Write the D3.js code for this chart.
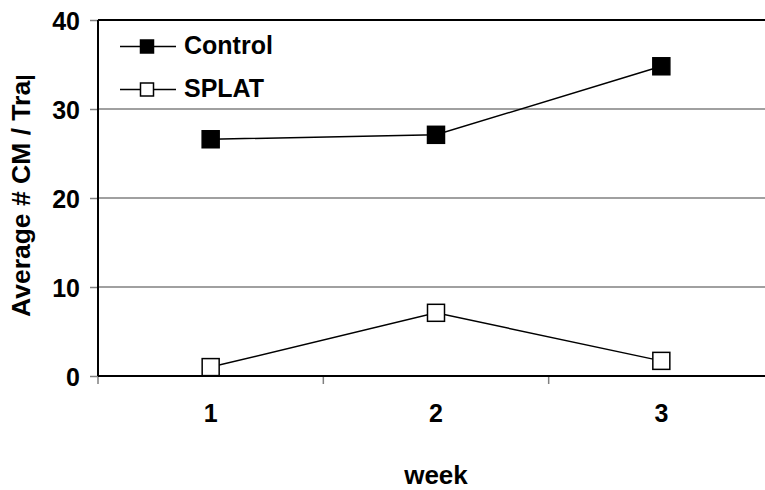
<!DOCTYPE html>
<html><head><meta charset="utf-8">
<script src="https://cdn.jsdelivr.net/npm/d3@7"></script>
<style>body{margin:0;background:#fff}svg{display:block;font-family:"Liberation Sans",Arial,sans-serif}</style>
</head><body>
<script>
const weeks = ["1","2","3"];
const controlValues = [26.6, 27.1, 34.8];
const splatValues = [1.0, 7.1, 1.7];
const yTicks = [0, 10, 20, 30, 40];
const seriesNames = ["Control", "SPLAT"];

(function () {
const W = 765, H = 490;
const FONT = "Liberation Sans, Arial, sans-serif";
const svg = d3.select("body").append("svg").attr("width", W).attr("height", H);
const mLeft = 98, mTop = 20, mBottom = 376, plotRight = 774;

const x = d3.scaleBand().domain(weeks).range([mLeft, plotRight]);
const y = d3.scaleLinear().domain([0, 40]).range([mBottom, mTop]);

// gridlines
svg.append("g").selectAll("line").data(yTicks.filter(d => d > 0 && d < 40)).join("line")
  .attr("x1", mLeft).attr("x2", W).attr("y1", d => y(d)).attr("y2", d => y(d))
  .attr("stroke", "#808080").attr("stroke-width", 1.5);
// top frame
svg.append("line").attr("x1", mLeft).attr("x2", W).attr("y1", y(40)).attr("y2", y(40))
  .attr("stroke", "#000").attr("stroke-width", 2);

// y axis
const ya = svg.append("g").attr("transform", `translate(${mLeft},0)`)
  .call(d3.axisLeft(y).tickValues(yTicks).tickSize(8).tickPadding(10));
ya.select(".domain").remove();
ya.selectAll(".tick line").attr("stroke", "#808080").attr("stroke-width", 1.5);
ya.selectAll(".tick text").attr("font-size", 25).attr("font-weight", "bold").attr("fill", "#000")
  .attr("font-family", FONT).attr("dy", "0.36em");
svg.append("line").attr("x1", mLeft).attr("x2", mLeft).attr("y1", mTop).attr("y2", mBottom)
  .attr("stroke", "#000").attr("stroke-width", 2);

// x axis
const xa = svg.append("g").attr("transform", `translate(0,${mBottom})`)
  .call(d3.axisBottom(x).tickSize(0));
xa.select(".domain").remove();
xa.selectAll(".tick text").attr("font-size", 25).attr("font-weight", "bold").attr("fill", "#000")
  .attr("font-family", FONT).attr("y", 46).attr("dy", 0);
svg.append("g").selectAll("line").data(weeks).join("line")
  .attr("x1", d => x(d)).attr("x2", d => x(d)).attr("y1", mBottom).attr("y2", mBottom + 8)
  .attr("stroke", "#808080").attr("stroke-width", 1.5);
svg.append("line").attr("x1", mLeft).attr("x2", W).attr("y1", mBottom).attr("y2", mBottom)
  .attr("stroke", "#000").attr("stroke-width", 2);

const cx = d => x(d) + x.bandwidth() / 2;
const line = d3.line().x(d => cx(d[0])).y(d => y(d[1]));
const series = [
  {name: seriesNames[0], vals: controlValues, fill: "#000"},
  {name: seriesNames[1], vals: splatValues, fill: "#fff"}
];
const S = 17;
series.forEach(s => {
  const pts = weeks.map((w, i) => [w, s.vals[i]]);
  svg.append("path").datum(pts).attr("d", line).attr("fill", "none")
    .attr("stroke", "#000").attr("stroke-width", 1.5);
  svg.append("g").selectAll("rect").data(pts).join("rect")
    .attr("x", d => cx(d[0]) - S / 2).attr("y", d => y(d[1]) - S / 2)
    .attr("width", S).attr("height", S).attr("fill", s.fill)
    .attr("stroke", "#000").attr("stroke-width", 1.5);
});

// legend
const lg = svg.append("g");
series.forEach((s, i) => {
  const ly = 46.5 + i * 43;
  lg.append("line").attr("x1", 120).attr("x2", 176).attr("y1", ly).attr("y2", ly)
    .attr("stroke", "#000").attr("stroke-width", 1.5);
  lg.append("rect").attr("x", 140.5).attr("y", ly - 6.5).attr("width", 13).attr("height", 13)
    .attr("fill", s.fill).attr("stroke", "#000").attr("stroke-width", 1.5);
  lg.append("text").attr("x", 184).attr("y", ly + 7.5).text(s.name)
    .attr("font-size", 25).attr("font-weight", "bold");
});

// y label (clipped at top)
svg.append("clipPath").attr("id", "yc").append("rect")
  .attr("x", 0).attr("y", 76).attr("width", 50).attr("height", 400);
svg.append("g").attr("clip-path", "url(#yc)")
  .append("text")
  .attr("transform", `translate(30,317) rotate(-90)`)
  .attr("text-anchor", "start").attr("font-size", 26.5).attr("font-weight", "bold")
  .text("Average # CM / Trap");

// x label
svg.append("text").attr("x", cx("2")).attr("y", 484).attr("text-anchor", "middle")
  .attr("font-size", 26).attr("font-weight", "bold").text("week");
})();
</script>
</body></html>
